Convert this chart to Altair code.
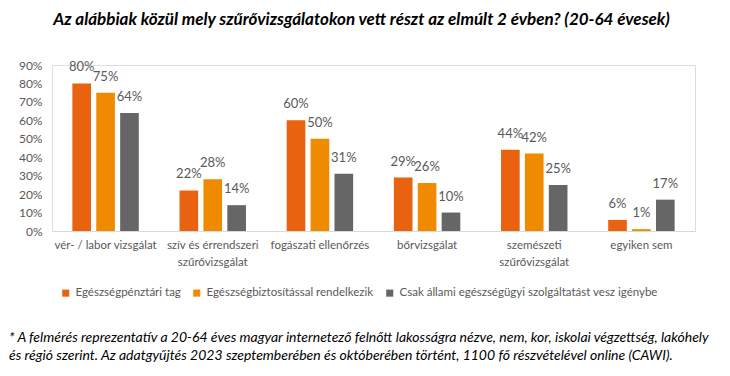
import altair as alt
import pandas as pd

categories = [
    "vér- / labor vizsgálat",
    "szív és érrendszeri|szűrővizsgálat",
    "fogászati ellenőrzés",
    "bőrvizsgálat",
    "szemészeti|szűrővizsgálat",
    "egyiken sem",
]
series = [
    "Egészségpénztári tag",
    "Egészségbiztosítással rendelkezik",
    "Csak állami egészségügyi szolgáltatást vesz igénybe",
]
values_1 = [80, 22, 60, 29, 44, 6]
values_2 = [75, 28, 50, 26, 42, 1]
values_3 = [64, 14, 31, 10, 25, 17]
colors = ["#E8620F", "#F08A00", "#666666"]
y_ticks = [0, 10, 20, 30, 40, 50, 60, 70, 80, 90]

title_text = "Az alábbiak közül mely szűrővizsgálatokon vett részt az elmúlt 2 évben? (20-64 évesek)"
footnote_lines = [
    "* A felmérés reprezentatív a 20-64 éves magyar internetező felnőtt lakosságra nézve, nem, kor, iskolai végzettség, lakóhely",
    "és régió szerint. Az adatgyűjtés 2023 szeptemberében és októberében történt, 1100 fő részvételével online (CAWI).",
]

rows = []
for s, vals in zip(series, [values_1, values_2, values_3]):
    for c, v in zip(categories, vals):
        rows.append({"cat": c, "series": s, "value": v / 100})
df = pd.DataFrame(rows)

FONT = "Lato"
GRAY = "#595959"

x_axis = alt.Axis(
    title=None,
    labelAngle=0,
    labelExpr="split(datum.label, '|')",
    labelFont=FONT,
    labelFontSize=11.5,
    labelColor=GRAY,
    labelPadding=8,
    labelLineHeight=17,
    ticks=False,
    domainColor="#D9D9D9",
    domainWidth=1,
    labelLimit=200,
    grid=False,
)
y_axis = alt.Axis(
    title=None,
    format=".0%",
    values=[t / 100 for t in y_ticks],
    labelOverlap=False,
    labelFont=FONT,
    labelFontSize=12,
    labelColor=GRAY,
    labelPadding=10,
    ticks=False,
    domain=False,
    grid=False,
)


def x_enc():
    return alt.X("cat:N", sort=categories,
                 scale=alt.Scale(paddingInner=0.38, paddingOuter=0.19), axis=x_axis)


def y_enc():
    return alt.Y("value:Q", scale=alt.Scale(domain=[0, 0.9]), axis=y_axis)


def xoff():
    return alt.XOffset("series:N", sort=series, scale=alt.Scale(paddingInner=0.22))


base = alt.Chart(df)
bars = base.mark_bar().encode(
    x=x_enc(),
    xOffset=xoff(),
    y=y_enc(),
    color=alt.Color(
        "series:N",
        sort=series,
        scale=alt.Scale(domain=series, range=colors),
        legend=alt.Legend(
            title=None,
            orient="none",
            direction="horizontal",
            legendX=8,
            legendY=222,
            symbolType="square",
            symbolSize=50,
            symbolStrokeWidth=0,
            labelFont=FONT,
            labelFontSize=11.5,
            labelColor=GRAY,
            labelLimit=400,
            columnPadding=10,
            labelOffset=4,
        ),
    ),
)
labels = base.mark_text(dy=-9, font=FONT, fontSize=13, color=GRAY, baseline="bottom").encode(
    x=x_enc(),
    xOffset=xoff(),
    y=y_enc(),
    text=alt.Text("value:Q", format=".0%"),
)

foot = alt.Chart(pd.DataFrame({"t": ["\n".join(footnote_lines)]})).mark_text(
    align="left",
    baseline="alphabetic",
    font=FONT,
    fontSize=14,
    fontStyle="italic",
    color="#000000",
    lineBreak="\n",
    lineHeight=18,
).encode(text="t:N", x=alt.value(-43), y=alt.value(277))

chart = (
    alt.layer(bars, labels, foot)
    .properties(
        width=643,
        height=166,
        padding={"left": 44, "top": 57, "right": 20, "bottom": 143},
        autosize=alt.AutoSizeParams(type="none"),
        title=alt.TitleParams(
            title_text,
            font=FONT,
            fontSize=17,
            fontStyle="italic",
            fontWeight="bold",
            color="#000000",
            anchor="middle",
            offset=30,
            dx=-12,
        ),
    )
    .configure_view(strokeWidth=0)
    .configure(background="white")
)

chart.save("out.html", embed_options={"renderer": "svg", "actions": False})
